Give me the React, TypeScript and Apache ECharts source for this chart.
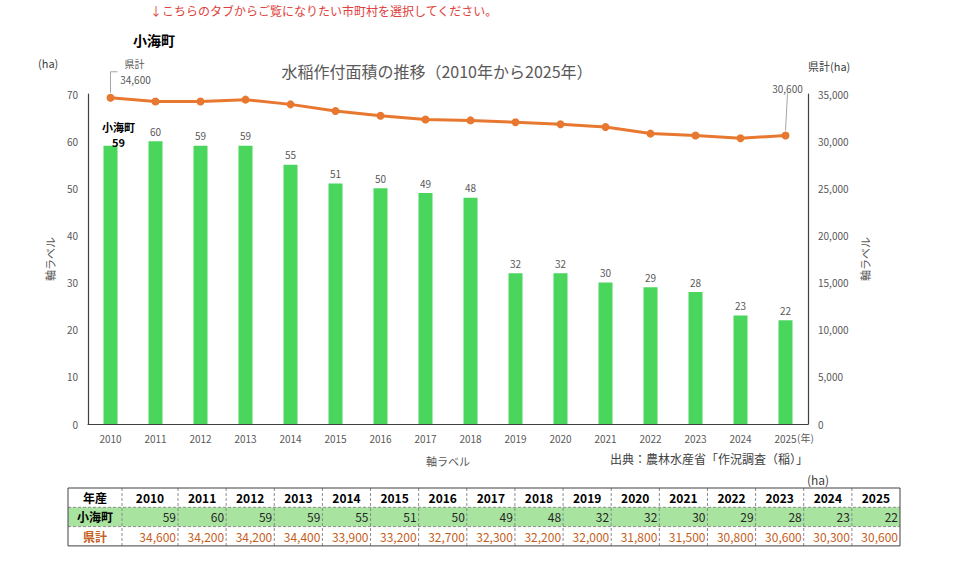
import React, { useEffect, useRef } from "react";
import * as echarts from "echarts";

// 年産（カテゴリ）
const years = ["2010", "2011", "2012", "2013", "2014", "2015", "2016", "2017", "2018", "2019", "2020", "2021", "2022", "2023", "2024", "2025"];
// 小海町の水稲作付面積 (ha)
const townValues = [59, 60, 59, 59, 55, 51, 50, 49, 48, 32, 32, 30, 29, 28, 23, 22];
// 県計の水稲作付面積 (ha)
const prefValues = [34600, 34200, 34200, 34400, 33900, 33200, 32700, 32300, 32200, 32000, 31800, 31500, 30800, 30600, 30300, 30600];

const townName = "小海町";
const prefName = "県計";
const FONT = "'Noto Sans CJK JP', 'Noto Sans', sans-serif";
const BAR_COLOR = "#4AD65C";
const LINE_COLOR = "#E8782F";
const PREF_TEXT = "#C55E1C";
const AXIS_TEXT = "#595959";

const fmt = (v: number) => v.toLocaleString("en-US");

function buildTable(): any[] {
  const els: any[] = [];
  const top = 488;
  const rowH = 19.3;
  const edges: number[] = [68, 122, 178];
  const right = 900;
  const restW = (right - 178) / (years.length - 1);
  for (let i = 1; i < years.length; i++) edges.push(178 + restW * i);
  const bottom = top + rowH * 3;

  els.push({
    type: "rect",
    shape: { x: edges[0], y: top + rowH, width: right - edges[0], height: rowH },
    style: { fill: "#A9E3A0" },
    silent: true,
  });
  // dashed inner rules
  for (let r = 1; r < 3; r++) {
    els.push({
      type: "line",
      shape: { x1: edges[0], y1: top + rowH * r, x2: right, y2: top + rowH * r },
      style: { stroke: "#8C8C8C", lineWidth: 1, lineDash: [3, 2] },
      silent: true,
    });
  }
  for (let c = 1; c < edges.length - 1; c++) {
    els.push({
      type: "line",
      shape: { x1: edges[c], y1: top, x2: edges[c], y2: bottom },
      style: { stroke: "#8C8C8C", lineWidth: 1, lineDash: [3, 2] },
      silent: true,
    });
  }
  els.push({
    type: "rect",
    shape: { x: edges[0], y: top, width: right - edges[0], height: rowH * 3 },
    style: { fill: "none", stroke: "#404040", lineWidth: 1 },
    silent: true,
  });

  const cellText = (text: string, x: number, y: number, align: string, color: string, bold: boolean) => ({
    type: "text",
    x,
    y,
    style: {
      text,
      fill: color,
      font: `${bold ? "bold " : ""}12px ${FONT}`,
      align,
      verticalAlign: "middle",
    },
    silent: true,
  });

  const cy = (r: number) => top + rowH * r + rowH / 2;
  els.push(cellText("年産", (edges[0] + edges[1]) / 2, cy(0), "center", "#000", true));
  els.push(cellText(townName, (edges[0] + edges[1]) / 2, cy(1), "center", "#000", true));
  els.push(cellText(prefName, (edges[0] + edges[1]) / 2, cy(2), "center", PREF_TEXT, true));
  years.forEach((y, i) => {
    const l = edges[i + 1];
    const rgt = edges[i + 2];
    els.push(cellText(y, (l + rgt) / 2, cy(0), "center", "#000", true));
    els.push(cellText(String(townValues[i]), rgt - 2, cy(1), "right", "#262626", false));
    els.push(cellText(fmt(prefValues[i]), rgt - 2, cy(2), "right", PREF_TEXT, false));
  });
  els.push(cellText("(ha)", 818, 479, "center", "#404040", false));
  return els;
}

const textEl = (text: string, x: number, y: number, size: number, color: string, align = "left", bold = false) => ({
  type: "text",
  x,
  y,
  style: { text, fill: color, font: `${bold ? "bold " : ""}${size}px ${FONT}`, align, verticalAlign: "middle" },
  silent: true,
});

function staticTexts(): any[] {
  return [
    textEl("↓こちらのタブからご覧になりたい市町村を選択してください。", 150, 10, 12, "#E0403C"),
    textEl(townName, 133, 40, 14, "#000", "left", true),
    textEl("水稲作付面積の推移（2010年から2025年）", 437, 71, 16, AXIS_TEXT, "center"),
    textEl("(ha)", 38, 63, 11, "#404040"),
    textEl("県計(ha)", 808, 66, 11, "#404040"),
    textEl("(年)", 797, 437, 10, AXIS_TEXT),
    textEl("出典：農林水産省「作況調査（稲）」", 808, 458, 12, "#404040", "right"),
  ];
}

export default function App() {
  const ref = useRef<HTMLDivElement>(null);

  useEffect(() => {
    if (!ref.current) return;
    const chart = echarts.init(ref.current, null, { renderer: "svg" });
    const last = prefValues.length - 1;

    const option: any = {
      animation: false,
      textStyle: { fontFamily: FONT },
      grid: { left: 88, right: 152, top: 94, bottom: 144 },
      xAxis: {
        type: "category",
        data: years,
        name: "軸ラベル",
        nameLocation: "middle",
        nameGap: 31,
        nameTextStyle: { color: AXIS_TEXT, fontSize: 11, fontFamily: FONT },
        axisLine: { lineStyle: { color: "#404040", width: 1.2 } },
        axisTick: { show: false },
        axisLabel: { color: AXIS_TEXT, fontSize: 10, margin: 9, fontFamily: FONT },
      },
      yAxis: [
        {
          type: "value",
          min: 0,
          max: 70,
          interval: 10,
          name: "軸ラベル",
          nameLocation: "middle",
          nameGap: 33,
          nameRotate: 90,
          nameTextStyle: { color: AXIS_TEXT, fontSize: 11, fontFamily: FONT },
          axisLine: { show: true, lineStyle: { color: "#404040", width: 1.2 } },
          axisTick: { show: false },
          splitLine: { show: false },
          axisLabel: { color: AXIS_TEXT, fontSize: 10, margin: 10, fontFamily: FONT },
        },
        {
          type: "value",
          min: 0,
          max: 35000,
          interval: 5000,
          position: "right",
          name: "軸ラベル",
          nameLocation: "middle",
          nameGap: 43,
          nameRotate: 90,
          nameTextStyle: { color: AXIS_TEXT, fontSize: 11, fontFamily: FONT },
          axisLine: { show: true, lineStyle: { color: "#404040", width: 1.2 } },
          axisTick: { show: false },
          splitLine: { show: false },
          axisLabel: {
            color: AXIS_TEXT,
            fontSize: 10,
            margin: 10,
            fontFamily: FONT,
            formatter: (v: number) => fmt(v),
          },
        },
      ],
      series: [
        {
          type: "bar",
          yAxisIndex: 0,
          barWidth: 14,
          itemStyle: { color: BAR_COLOR },
          data: townValues.map((v, i) =>
            i === 0
              ? {
                  value: v,
                  label: {
                    show: true,
                    position: "top",
                    distance: 0,
                    offset: [8, 4],
                    formatter: (p: any) => `{n|${townName}}\n{v|${p.value}}`,
                    rich: {
                      n: { fontSize: 11, fontWeight: "bold", color: "#000", lineHeight: 15, align: "center", fontFamily: FONT },
                      v: { fontSize: 11, fontWeight: "bold", color: "#000", lineHeight: 15, align: "center", fontFamily: FONT },
                    },
                  },
                }
              : v
          ),
          label: {
            show: true,
            position: "top",
            distance: 5,
            color: AXIS_TEXT,
            fontSize: 10,
            fontFamily: FONT,
          },
        },
        {
          type: "line",
          yAxisIndex: 1,
          symbol: "circle",
          symbolSize: 8,
          lineStyle: { color: LINE_COLOR, width: 3 },
          itemStyle: { color: LINE_COLOR },
          data: prefValues.map((v, i) => {
            if (i === 0) {
              return {
                value: v,
                label: {
                  show: true,
                  position: "top",
                  distance: 5,
                  offset: [25, -4],
                  color: AXIS_TEXT,
                  fontSize: 10,
                  fontFamily: FONT,
                  formatter: (p: any) => fmt(p.value),
                },
              };
            }
            if (i === last) {
              return {
                value: v,
                label: {
                  show: true,
                  position: "top",
                  distance: 5,
                  offset: [2, -33],
                  color: AXIS_TEXT,
                  fontSize: 10,
                  fontFamily: FONT,
                  formatter: (p: any) => fmt(p.value),
                },
              };
            }
            return v;
          }),
        },
      ],
    };

    chart.setOption(option);

    // leader lines from the first and last county points to their labels
    const p0 = chart.convertToPixel({ seriesIndex: 1 }, [0, prefValues[0]]) as number[];
    const pN = chart.convertToPixel({ seriesIndex: 1 }, [last, prefValues[last]]) as number[];
    const leaders = [
      {
        type: "polyline",
        shape: { points: [[p0[0], p0[1] - 5], [p0[0], p0[1] - 26], [p0[0] + 7, p0[1] - 26]] },
        style: { stroke: "#A6A6A6", lineWidth: 1, fill: "none" },
        silent: true,
      },
      {
        type: "line",
        shape: { x1: pN[0], y1: pN[1] - 5, x2: pN[0] + 2, y2: pN[1] - 42 },
        style: { stroke: "#A6A6A6", lineWidth: 1 },
        silent: true,
      },
      // series name above the first county value
      textEl(prefName, p0[0] + 24, p0[1] - 34, 10, AXIS_TEXT, "center"),
    ];

    chart.setOption({ graphic: [...staticTexts(), ...leaders, ...buildTable()] });

    return () => chart.dispose();
  }, []);

  return <div ref={ref} style={{ position: "absolute", left: 0, top: 0, width: 960, height: 568 }} />;
}
